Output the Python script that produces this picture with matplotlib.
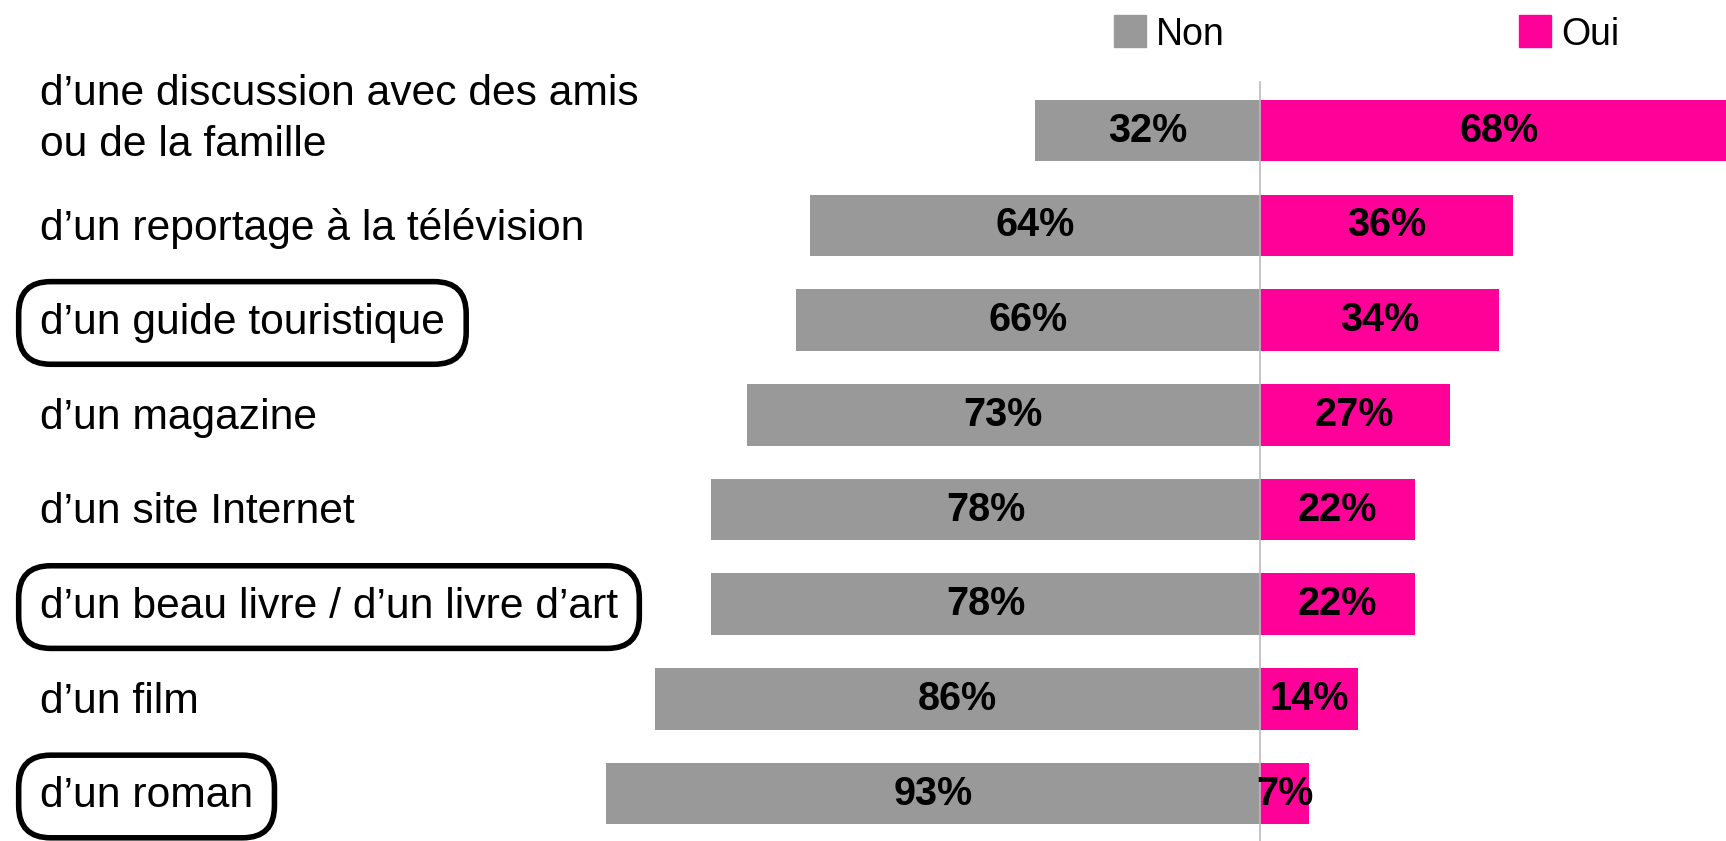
import matplotlib
matplotlib.use('Agg')
import matplotlib.pyplot as plt
from matplotlib.patches import Rectangle
from matplotlib.transforms import blended_transform_factory

# survey: where did the idea of the trip come from (Non / Oui split)
categories = [
    "d\u2019une discussion avec des amis\nou de la famille",
    "d\u2019un reportage \u00e0 la t\u00e9l\u00e9vision",
    "d\u2019un guide touristique",
    "d\u2019un magazine",
    "d\u2019un site Internet",
    "d\u2019un beau livre / d\u2019un livre d\u2019art",
    "d\u2019un film",
    "d\u2019un roman",
]
non_values = [32, 64, 66, 73, 78, 78, 86, 93]
oui_values = [68, 36, 34, 27, 22, 22, 14, 7]
boxed = [False, False, True, False, False, True, False, True]
series = ['Non', 'Oui']

grey = '#999999'
pink = '#FF0099'

plt.rcParams['font.family'] = ['Liberation Sans', 'DejaVu Sans']

W, H = 1726, 841
fig = plt.figure(figsize=(W / 100, H / 100), dpi=100)
ax = fig.add_axes([0, 0, 1, 1])

y = list(range(len(categories)))
ax.barh(y, [-v for v in non_values], height=0.65, color=grey, zorder=2)
ax.barh(y, oui_values, height=0.65, color=pink, zorder=2)

ax.set_xlim(-179.2, 66.3)
ax.set_ylim(7.5, -1.38)
ax.axis('off')

# thin center line
ax.plot([0, 0], [-0.51, 7.6], color='#BBBBBB', lw=1.2, zorder=3, clip_on=False)

for i in y:
    ax.text(-non_values[i] / 2, i, f"{non_values[i]}%", ha='center', va='center',
            fontsize=28.5, fontweight='bold', zorder=4)
    ax.text(oui_values[i] / 2, i, f"{oui_values[i]}%", ha='center', va='center',
            fontsize=28.5, fontweight='bold', zorder=4)

trans = blended_transform_factory(fig.transFigure, ax.transData)
for i, cat in enumerate(categories):
    kw = {}
    if boxed[i]:
        kw['bbox'] = dict(boxstyle='round,pad=0.5,rounding_size=0.75',
                          fc='none', ec='black', lw=4)
    ypos = i - 0.12 if '\n' in cat else i + 0.03
    ax.text(40 / W, ypos, cat, transform=trans, ha='left', va='center',
            fontsize=30.7, linespacing=1.36, **kw)

# legend drawn by hand (two entries far apart)
leg_x = [1114, 1519]
for name, col, x0 in zip(series, [grey, pink], leg_x):
    fig.patches.append(Rectangle((x0 / W, 1 - 47 / H), 32 / W, 32 / H,
                                 transform=fig.transFigure, color=col))
    fig.text((x0 + 42) / W, 1 - 31 / H, name, ha='left', va='center_baseline',
             fontsize=27)

fig.savefig('out.png', dpi=100)
